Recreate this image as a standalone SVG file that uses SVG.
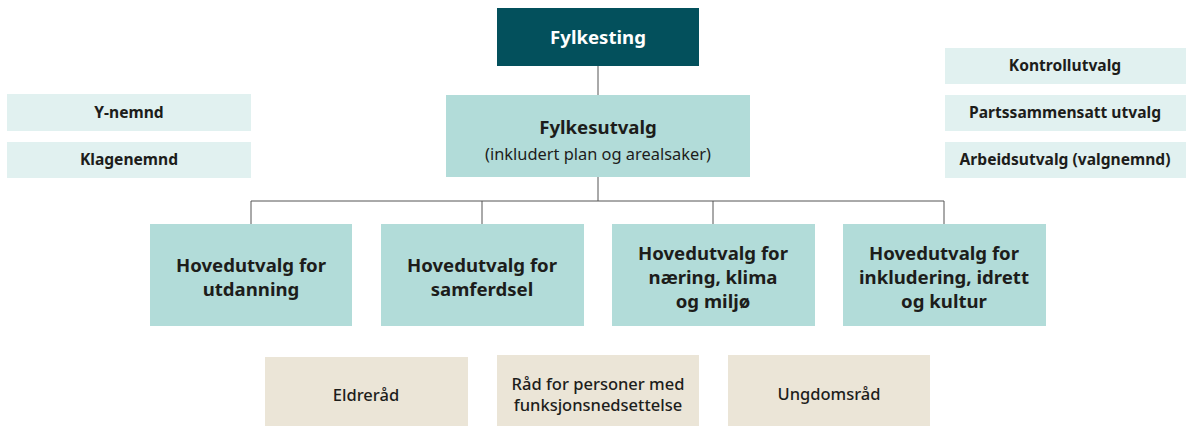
<svg xmlns="http://www.w3.org/2000/svg" width="1186" height="426" viewBox="0 0 1186 426">
<style>
text{font-family:"Noto Sans","Liberation Sans",sans-serif;text-anchor:middle;fill:#1d1d1b}
.t{font-weight:700;font-size:18.6px}
.s{font-weight:700;font-size:15.6px}
.b{font-weight:500;font-size:16.5px}
.sub{font-weight:400;font-size:16.4px}
.dark{fill:#03505c}
.mid{fill:#b2dcd9}
.light{fill:#e1f1f0}
.beige{fill:#ebe5d7}
.conn{stroke:#555;stroke-width:1;fill:none}
</style>
<g id="connectors">
<path class="conn" d="M598 66V95M598 177V201M251 201H944M251 201V224M482 201V224M713 201V224M944 201V224"/>
</g>
<g id="fylkesting"><rect class="dark" x="497" y="8" width="202" height="58"/><text class="t" x="598" y="44" style="fill:#fff">Fylkesting</text></g>
<g id="fylkesutvalg"><rect class="mid" x="446" y="95" width="304" height="82"/><text class="t" x="598" y="134">Fylkesutvalg</text><text class="sub" x="598" y="160">(inkludert plan og arealsaker)</text></g>
<g id="ynemnd"><rect class="light" x="7" y="94" width="244" height="37"/><text class="s" x="129" y="118">Y-nemnd</text></g>
<g id="klagenemnd"><rect class="light" x="7" y="142" width="244" height="36"/><text class="s" x="129" y="165">Klagenemnd</text></g>
<g id="kontrollutvalg"><rect class="light" x="945" y="48" width="241" height="36"/><text class="s" x="1065" y="71">Kontrollutvalg</text></g>
<g id="partssammensatt"><rect class="light" x="945" y="95" width="241" height="36"/><text class="s" x="1065" y="118">Partssammensatt utvalg</text></g>
<g id="arbeidsutvalg"><rect class="light" x="945" y="142" width="241" height="36"/><text class="s" x="1065" y="165">Arbeidsutvalg (valgnemnd)</text></g>
<g id="hu-utdanning"><rect class="mid" x="150" y="224" width="202" height="102"/><text class="t" x="251" y="272">Hovedutvalg for</text><text class="t" x="251" y="296">utdanning</text></g>
<g id="hu-samferdsel"><rect class="mid" x="381" y="224" width="203" height="102"/><text class="t" x="482" y="272">Hovedutvalg for</text><text class="t" x="482" y="296">samferdsel</text></g>
<g id="hu-naering"><rect class="mid" x="612" y="224" width="203" height="102"/><text class="t" x="713" y="260">Hovedutvalg for</text><text class="t" x="713" y="284">næring, klima</text><text class="t" x="713" y="308">og miljø</text></g>
<g id="hu-inkludering"><rect class="mid" x="843" y="224" width="203" height="102"/><text class="t" x="944" y="260">Hovedutvalg for</text><text class="t" x="944" y="284">inkludering, idrett</text><text class="t" x="944" y="308">og kultur</text></g>
<g id="eldrerad"><rect class="beige" x="265" y="357" width="203" height="69"/><text class="b" x="366" y="401">Eldreråd</text></g>
<g id="rad-funksjon"><rect class="beige" x="497" y="355" width="202" height="71"/><text class="b" x="598" y="390">Råd for personer med</text><text class="b" x="598" y="411">funksjonsnedsettelse</text></g>
<g id="ungdomsrad"><rect class="beige" x="728" y="355" width="202" height="71"/><text class="b" x="829" y="400">Ungdomsråd</text></g>
</svg>
